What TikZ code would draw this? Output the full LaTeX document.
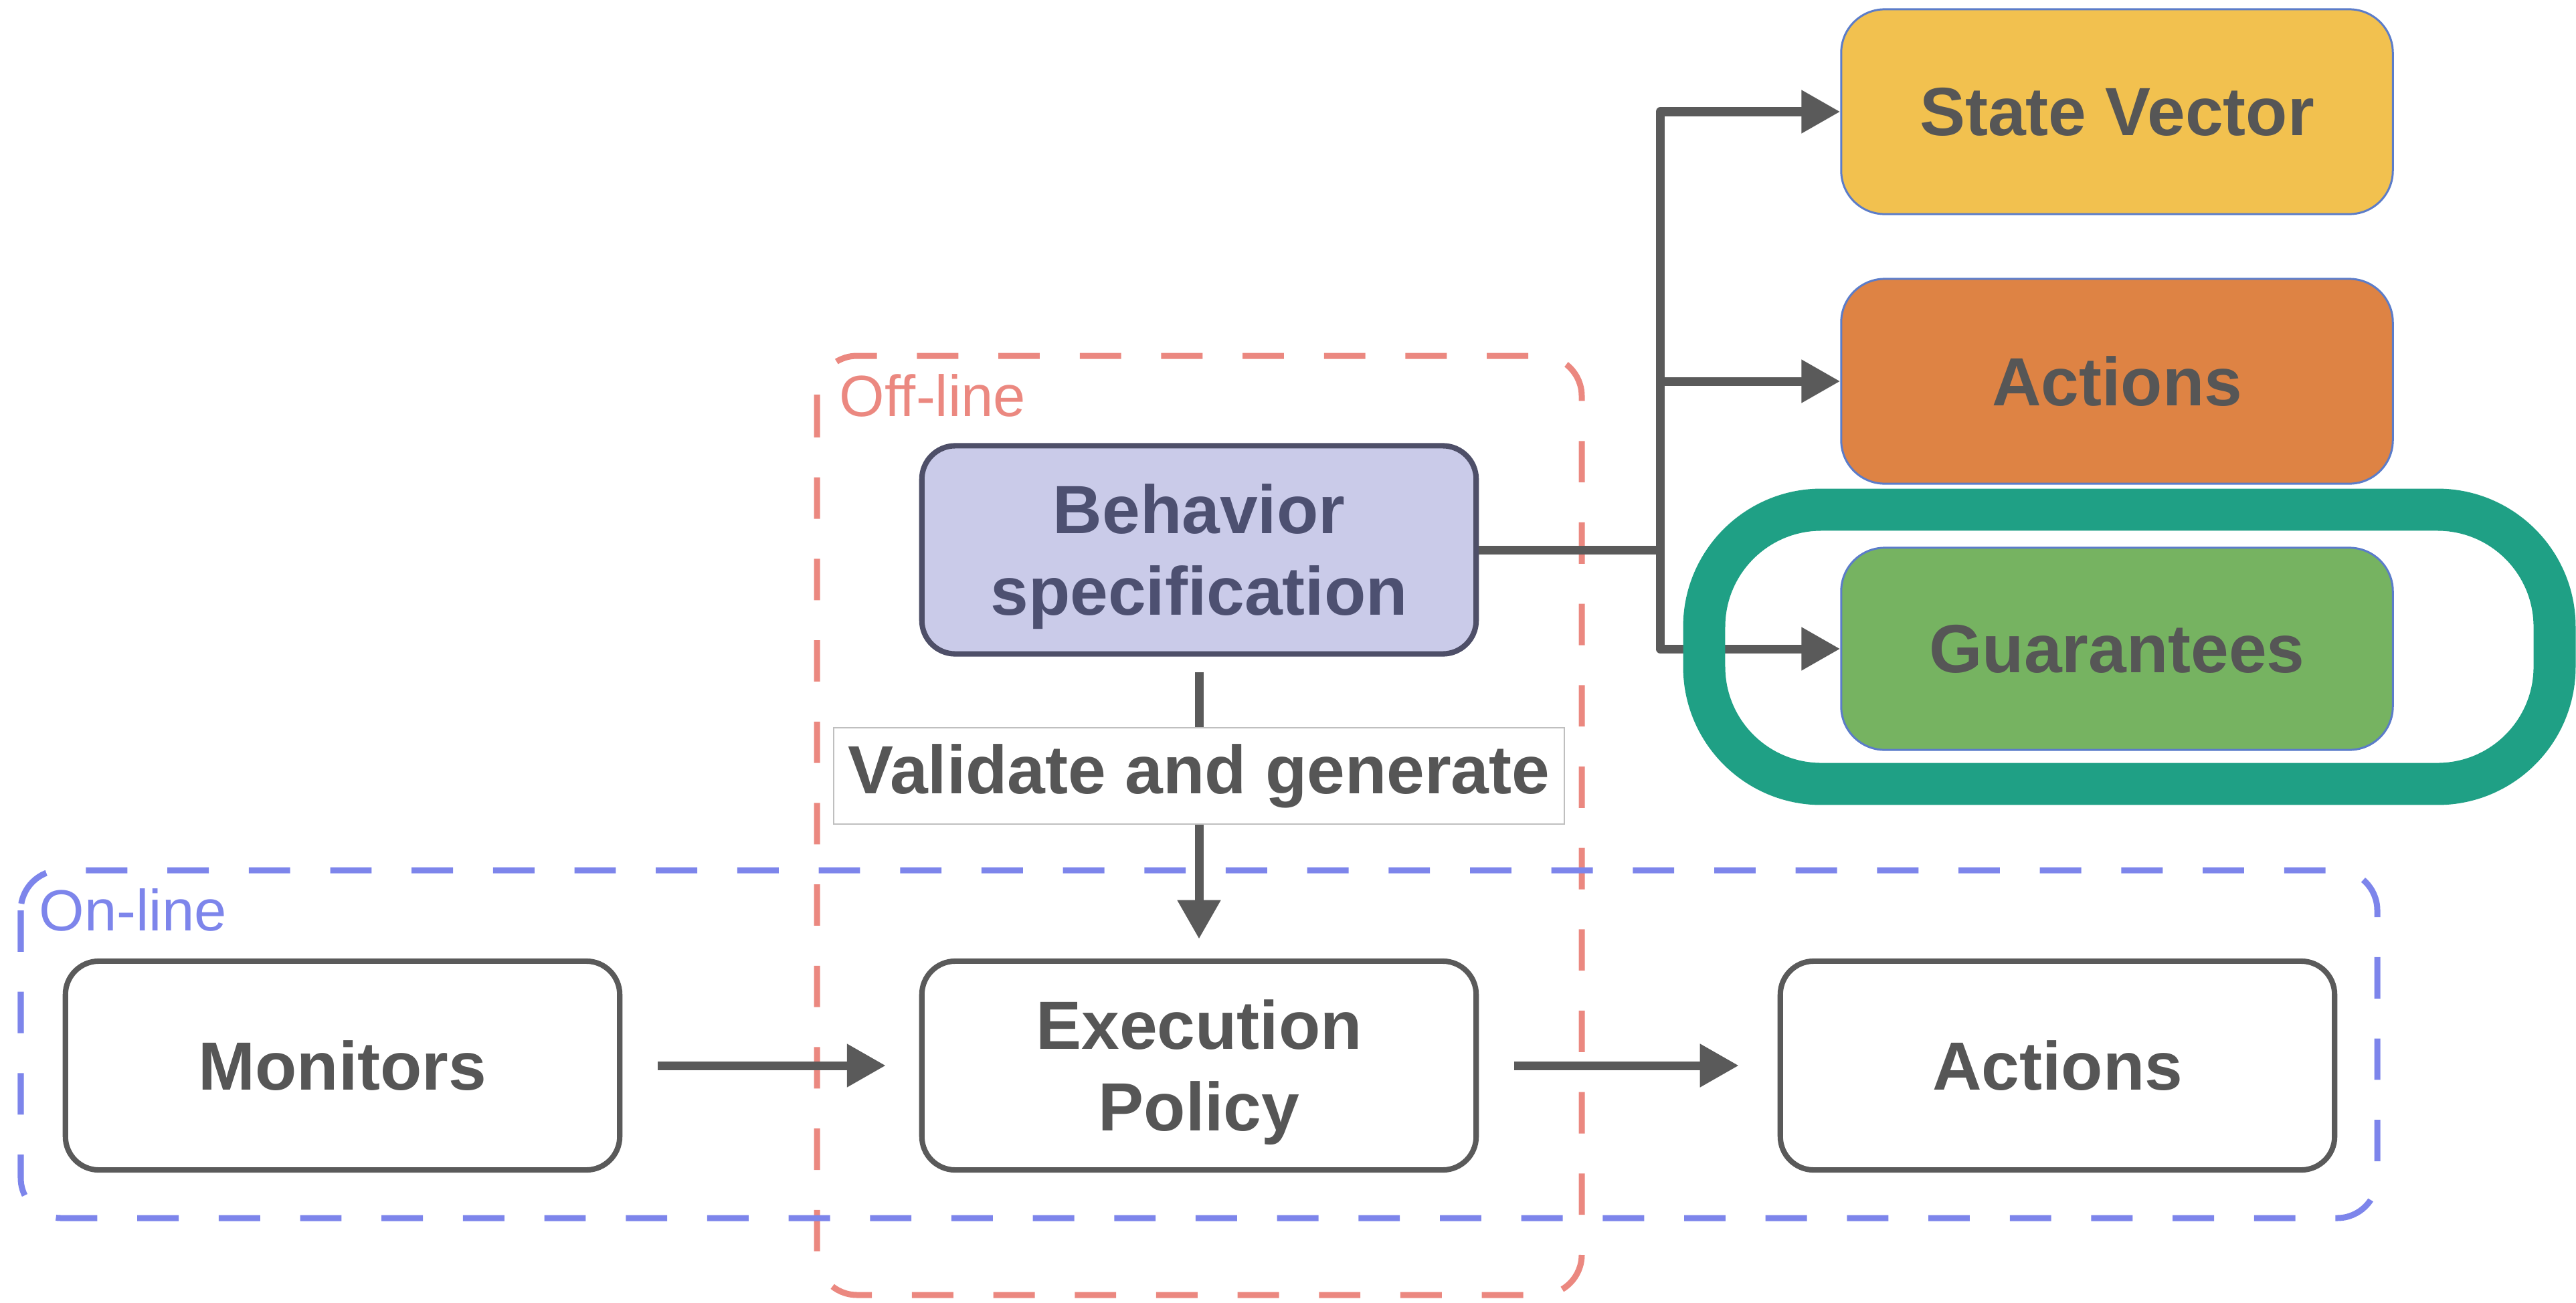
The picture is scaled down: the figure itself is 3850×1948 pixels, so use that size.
\documentclass[tikz,border=0pt]{standalone}
\usepackage{fontspec}
\setmainfont{Liberation Sans}
\usetikzlibrary{arrows.meta}

\definecolor{txtgray}{HTML}{565656}
\definecolor{boxgray}{HTML}{5A5A5A}
\definecolor{specfill}{HTML}{CACBE9}
\definecolor{specline}{HTML}{4E4F68}
\definecolor{spectext}{HTML}{4D5071}
\definecolor{svfill}{HTML}{F2C14F}
\definecolor{actfill}{HTML}{DE8344}
\definecolor{guarfill}{HTML}{76B361}
\definecolor{thinblue}{HTML}{5B7CC9}
\definecolor{ringteal}{HTML}{1FA085}
\definecolor{offred}{HTML}{EB8880}
\definecolor{onblue}{HTML}{7D85EB}

\newcommand{\boxfont}{\fontsize{29}{34.7}\selectfont\bfseries}
\newcommand{\tagfont}{\fontsize{24.7}{29}\selectfont}
% taller first line, so that two-line labels sit a little lower
\newcommand{\firstline}{\rule{0pt}{27pt}}

\begin{document}
\begin{tikzpicture}[x=0.01cm, y=-0.01cm,
  plainbox/.style={draw=boxgray, line width=2.3pt, rounded corners=0.5cm,
    fill=white, inner sep=0pt, align=center, font=\boxfont, text=txtgray,
    minimum width=8.28cm, minimum height=3.12cm},
  colorbox/.style={draw=thinblue, line width=0.85pt, rounded corners=0.65cm,
    inner sep=0pt, align=center, font=\boxfont, text=txtgray,
    minimum width=8.24cm, minimum height=3.06cm},
  region/.style={line width=2.56pt, dash pattern=on 17.6pt off 17pt,
    rounded corners=0.6cm},
  flow/.style={draw=boxgray, line width=3.7pt,
    -{Triangle[length=16.5pt, width=17.5pt]}},
  trunk/.style={draw=boxgray, line width=3.7pt, line join=round}]

\useasboundingbox (0,0) rectangle (3850,1948);

% off-line and on-line regions
\draw[region, draw=offred] (1221,532) rectangle (2364,1936);
\draw[region, draw=onblue] (31,1301) rectangle (3553,1821);
\node[anchor=base west, inner sep=0pt, font=\tagfont, text=offred] (offtag) at (1254,622) {Off-line};
\node[anchor=base west, inner sep=0pt, font=\tagfont, text=onblue] (ontag) at (58,1391) {On-line};

% specification outputs
\node[colorbox, fill=svfill] (sv) at (3164,167) {State Vector};
\node[colorbox, fill=actfill] (acto) at (3164,570) {Actions};
\node[colorbox, fill=guarfill, minimum height=3.02cm] (guar) at (3164,970) {Guarantees};

% main blocks
\node[plainbox, draw=specline, fill=specfill, text=spectext, minimum height=3.11cm] (spec) at (1792,822) {\firstline Behavior\\specification};
\node[plainbox] (exec) at (1792,1593) {\firstline Execution\\Policy};
\node[plainbox] (mon) at (512,1593) {Monitors};
\node[plainbox] (act) at (3075,1593) {Actions};

% fan-out from the specification
\coordinate (j) at (2481,822);
\draw[trunk] (spec.east) -- (j);
\draw[flow, line join=round] (j) |- (sv.west);
\draw[flow] (j |- acto.west) -- (acto.west);
\draw[flow, line join=round] (j) |- (guar.west);

% highlight ring around the guarantees
\draw[ringteal, line width=17.9pt, rounded corners=1.75cm] (2547,762) rectangle (3818,1172);

% validation step
\draw[flow, shorten <=6.5pt, shorten >=8.3pt] (spec.south) -- (exec.north);
\node[draw=black!25, line width=0.5pt, fill=white, inner sep=0pt,
  minimum width=10.91cm, minimum height=1.44cm, font=\boxfont, text=txtgray]
  (valid) at (1792,1160) {Validate and generate};

% on-line flow
\draw[flow, shorten <=15pt, shorten >=14.2pt] (mon.east) -- (exec.west);
\draw[flow, shorten <=15pt, shorten >=16.5pt] (exec.east) -- (act.west);

\end{tikzpicture}
\end{document}
